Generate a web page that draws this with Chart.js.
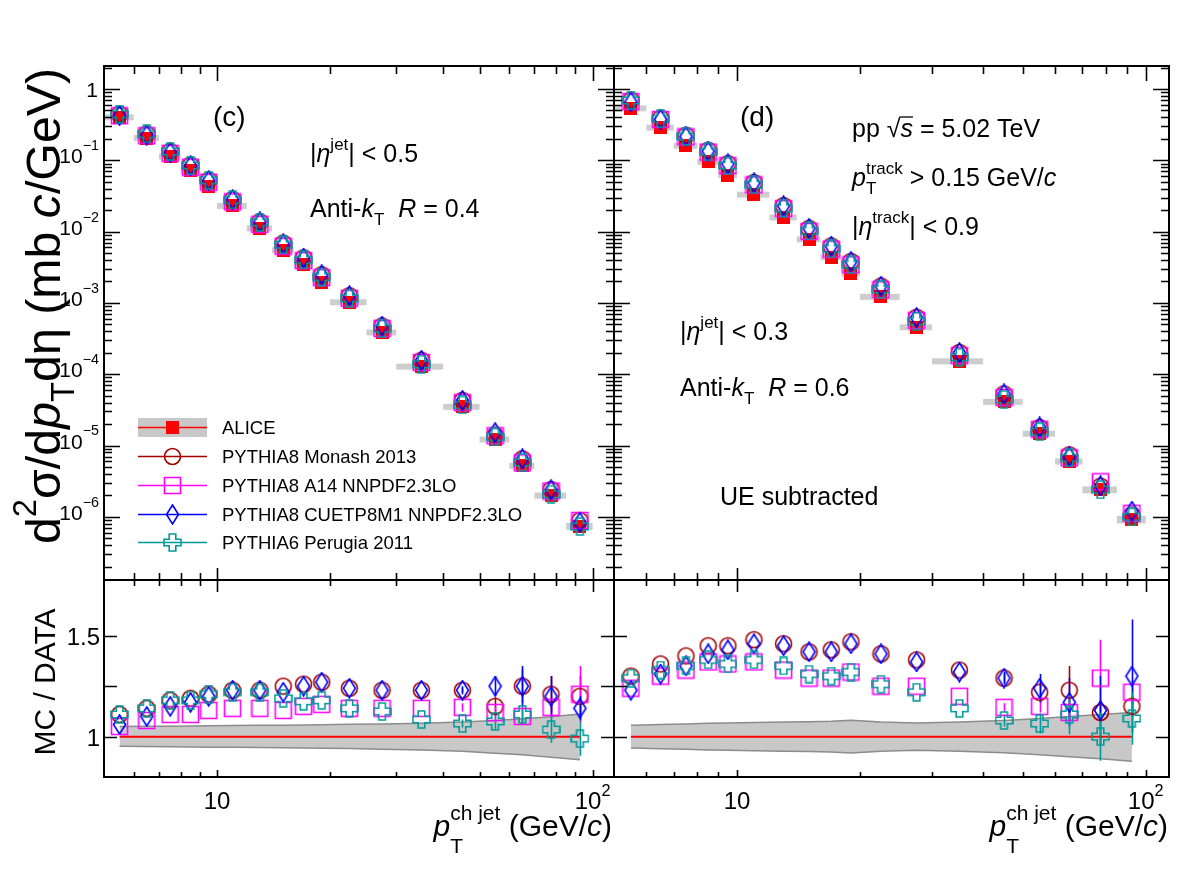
<!DOCTYPE html>
<html>
<head>
<meta charset="utf-8">
<script src="https://cdn.jsdelivr.net/npm/chart.js@4.4.1/dist/chart.umd.min.js"></script>
<style>
  html, body { margin: 0; padding: 0; background: #fff; }
  #wrap { position: relative; width: 1182px; height: 888px; }
  #wrap canvas { position: absolute; left: 0; top: 0; }
</style>
</head>
<body>
<div id="wrap">
  <canvas id="c-tl" width="1182" height="888"></canvas>
  <canvas id="c-tr" width="1182" height="888"></canvas>
  <canvas id="c-bl" width="1182" height="888"></canvas>
  <canvas id="c-br" width="1182" height="888"></canvas>
</div>
<script>
const FONT = '"Liberation Sans", Arial, Helvetica, sans-serif';
const W = 1182, H = 888;

// jet pT bins (GeV/c)
const binEdges   = [5, 6, 7, 8, 9, 10, 12, 14, 16, 18, 20, 25, 30, 40, 50, 60, 70, 85, 100];
const binCenters = [5.5, 6.5, 7.5, 8.5, 9.5, 11, 13, 15, 17, 19, 22.5, 27.5, 35, 45, 55, 65, 77.5, 92.5];

// ---- (c) |eta| < 0.5, R = 0.4 : cross sections (mb c/GeV)
const aliceC   = [0.40, 0.205, 0.113, 0.072, 0.0435, 0.0229, 0.0111, 0.0055, 0.0034, 0.00195, 0.00102, 3.85e-4, 1.28e-4, 3.5e-5, 1.22e-5, 5.2e-6, 2.0e-6, 7.4e-7];
const monashC  = [0.444, 0.234, 0.133, 0.0857, 0.0526, 0.0282, 0.0137, 0.00688, 0.00428, 0.00248, 0.00126, 4.74e-4, 1.57e-4, 4.3e-5, 1.40e-5, 6.5e-6, 2.42e-6, 8.9e-7];
const a14C     = [0.42, 0.221, 0.125, 0.080, 0.0492, 0.0261, 0.01265, 0.00622, 0.00391, 0.00226, 0.00116, 4.39e-4, 1.46e-4, 4.0e-5, 1.37e-5, 5.7e-6, 2.3e-6, 8.9e-7];
const cuetpC   = [0.424, 0.226, 0.130, 0.0842, 0.0522, 0.0282, 0.0137, 0.00671, 0.00425, 0.00248, 0.00126, 4.74e-4, 1.57e-4, 4.3e-5, 1.52e-5, 6.5e-6, 2.4e-6, 8.4e-7];
const perugiaC = [0.444, 0.234, 0.133, 0.085, 0.0526, 0.0279, 0.0135, 0.00655, 0.00401, 0.0023, 0.00116, 4.35e-4, 1.38e-4, 3.7e-5, 1.32e-5, 5.8e-6, 2.08e-6, 7.3e-7];
// ALICE systematic band (relative)
const sysUpC = [1.050, 1.051, 1.052, 1.053, 1.054, 1.055, 1.056, 1.057, 1.058, 1.059, 1.061, 1.063, 1.066, 1.072, 1.080, 1.088, 1.098, 1.112];
const sysLoC = [0.952, 0.951, 0.950, 0.949, 0.948, 0.947, 0.946, 0.945, 0.944, 0.943, 0.941, 0.938, 0.934, 0.927, 0.918, 0.910, 0.898, 0.886];
// MC / DATA
const rMonashC  = [1.11, 1.14, 1.18, 1.19, 1.21, 1.23, 1.23, 1.25, 1.26, 1.27, 1.24, 1.23, 1.23, 1.23, 1.15, 1.25, 1.21, 1.20];
const rA14C     = [1.05, 1.08, 1.11, 1.11, 1.13, 1.14, 1.14, 1.13, 1.15, 1.16, 1.14, 1.14, 1.14, 1.145, 1.12, 1.10, 1.145, 1.21];
const rCuetpC   = [1.06, 1.10, 1.15, 1.17, 1.20, 1.23, 1.23, 1.22, 1.25, 1.27, 1.24, 1.23, 1.23, 1.23, 1.25, 1.25, 1.20, 1.14];
const rPerugiaC = [1.11, 1.14, 1.18, 1.18, 1.21, 1.22, 1.22, 1.19, 1.175, 1.18, 1.14, 1.125, 1.085, 1.065, 1.075, 1.11, 1.035, 0.99];
const eMonashC  = [0, 0, 0, 0, 0, 0, 0, 0, 0, 0, 0, 0, 0, 0.01, 0.045, 0.083, 0.09, 0.10];
const eA14C     = [0, 0, 0, 0, 0, 0, 0, 0, 0, 0, 0, 0, 0, 0.02, 0.03, 0.04, 0.05, 0.14];
const eCuetpC   = [0, 0, 0, 0, 0, 0, 0, 0, 0, 0, 0, 0, 0, 0.02, 0.05, 0.10, 0.10, 0.06];
const ePerugiaC = [0, 0, 0, 0, 0, 0, 0, 0, 0, 0, 0, 0, 0, 0.02, 0.04, 0.04, 0.065, 0.085];

// ---- (d) |eta| < 0.3, R = 0.6
const aliceD   = [0.536, 0.287, 0.160, 0.0953, 0.062, 0.0330, 0.0158, 0.0078, 0.0044, 0.0026, 0.00122, 4.55e-4, 1.52e-4, 4.1e-5, 1.47e-5, 6.0e-6, 2.4e-6, 9.2e-7];
const monashD  = [0.697, 0.390, 0.224, 0.138, 0.090, 0.0488, 0.0231, 0.0111, 0.00629, 0.00382, 0.00172, 6.28e-4, 2.02e-4, 5.29e-5, 1.79e-5, 7.4e-6, 2.69e-6, 1.06e-6];
const a14D     = [0.665, 0.373, 0.213, 0.1306, 0.0843, 0.0452, 0.021, 0.01006, 0.00568, 0.00343, 0.00153, 5.69e-4, 1.82e-4, 4.72e-5, 1.69e-5, 6.7e-6, 3.1e-6, 1.12e-6];
const cuetpD   = [0.659, 0.376, 0.216, 0.1344, 0.0887, 0.0482, 0.0229, 0.0111, 0.00625, 0.0038, 0.00172, 6.23e-4, 2.01e-4, 5.29e-5, 1.82e-5, 7.0e-6, 2.71e-6, 1.2e-6];
const perugiaD = [0.691, 0.382, 0.216, 0.1315, 0.0843, 0.0455, 0.0213, 0.0102, 0.00572, 0.00343, 0.00154, 5.55e-4, 1.73e-4, 4.43e-5, 1.56e-5, 6.7e-6, 2.4e-6, 1.0e-6];
const sysUpD = [1.056, 1.060, 1.063, 1.066, 1.068, 1.070, 1.072, 1.074, 1.076, 1.081, 1.072, 1.068, 1.072, 1.080, 1.090, 1.100, 1.110, 1.120];
const sysLoD = [0.944, 0.940, 0.937, 0.934, 0.932, 0.930, 0.928, 0.926, 0.924, 0.919, 0.928, 0.932, 0.928, 0.920, 0.910, 0.900, 0.890, 0.878];
const rMonashD  = [1.30, 1.36, 1.40, 1.45, 1.45, 1.48, 1.46, 1.42, 1.43, 1.47, 1.41, 1.38, 1.33, 1.29, 1.22, 1.23, 1.12, 1.15];
const rA14D     = [1.24, 1.30, 1.33, 1.37, 1.36, 1.37, 1.33, 1.29, 1.29, 1.32, 1.25, 1.25, 1.20, 1.145, 1.15, 1.12, 1.29, 1.22];
const rCuetpD   = [1.23, 1.31, 1.35, 1.41, 1.43, 1.46, 1.45, 1.42, 1.42, 1.46, 1.41, 1.37, 1.32, 1.29, 1.24, 1.17, 1.13, 1.30];
const rPerugiaD = [1.29, 1.33, 1.35, 1.38, 1.36, 1.38, 1.35, 1.31, 1.30, 1.32, 1.26, 1.22, 1.14, 1.08, 1.065, 1.11, 1.00, 1.09];
const eMonashD  = [0, 0, 0, 0, 0, 0, 0, 0, 0, 0, 0, 0, 0, 0.02, 0.05, 0.12, 0.05, 0.05];
const eA14D     = [0, 0, 0, 0, 0, 0, 0, 0, 0, 0, 0, 0, 0, 0.02, 0.03, 0.04, 0.19, 0.06];
const eCuetpD   = [0, 0, 0, 0, 0, 0, 0, 0, 0, 0, 0, 0, 0, 0.03, 0.07, 0.12, 0.17, 0.28];
const ePerugiaD = [0, 0, 0, 0, 0, 0, 0, 0, 0, 0, 0, 0, 0, 0.03, 0.05, 0.10, 0.12, 0.13];

const dataOverData = [1, 1, 1, 1, 1, 1, 1, 1, 1, 1, 1, 1, 1, 1, 1, 1, 1, 1];

// axes and labels
const X_MIN = 5, X_MAX = 114;
const Y_MIN = 1.3e-7, Y_MAX = 2.1;
const R_MIN = 0.8, R_MAX = 1.776;
const xLabelVals = [10, 100];
const xLabelBase = ['10', '10'];
const xLabelExp  = ['', '2'];
const yLabelVals = [1, 1e-1, 1e-2, 1e-3, 1e-4, 1e-5, 1e-6];
const yLabelBase = ['1', '10', '10', '10', '10', '10', '10'];
const yLabelExp  = ['', '\u22121', '\u22122', '\u22123', '\u22124', '\u22125', '\u22126'];
const rTickVals  = [1, 1.25, 1.5];
const rLabelVals = [1, 1.5];
const rLabelText = ['1', '1.5'];
const legendLabels = ['ALICE', 'PYTHIA8 Monash 2013', 'PYTHIA8 A14 NNPDF2.3LO', 'PYTHIA8 CUETP8M1 NNPDF2.3LO', 'PYTHIA6 Perugia 2011'];

// ---------- markers
function makeMarker(kind, color) {
  const c = document.createElement('canvas');
  let w = 19, h = 19;
  if (kind === 'diamond') { w = 15; h = 21; }
  if (kind === 'alice') { w = 13; h = 13; }
  c.width = w; c.height = h;
  const g = c.getContext('2d');
  g.strokeStyle = color; g.fillStyle = color; g.lineWidth = 1.6;
  const cx = w / 2, cy = h / 2;
  g.beginPath();
  if (kind === 'circle') {
    g.arc(cx, cy, 8, 0, 2 * Math.PI);
  } else if (kind === 'square') {
    g.rect(1.5, 1.5, w - 3, h - 3);
  } else if (kind === 'diamond') {
    g.moveTo(cx, 1); g.lineTo(w - 1.5, cy); g.lineTo(cx, h - 1); g.lineTo(1.5, cy); g.closePath();
  } else if (kind === 'cross') {
    const a = 3.3, b = 8.5;
    g.moveTo(cx - a, cy - b); g.lineTo(cx + a, cy - b); g.lineTo(cx + a, cy - a); g.lineTo(cx + b, cy - a);
    g.lineTo(cx + b, cy + a); g.lineTo(cx + a, cy + a); g.lineTo(cx + a, cy + b); g.lineTo(cx - a, cy + b);
    g.lineTo(cx - a, cy + a); g.lineTo(cx - b, cy + a); g.lineTo(cx - b, cy - a); g.lineTo(cx - a, cy - a);
    g.closePath();
  } else {
    g.fillRect(0, 0, w, h);
    return c;
  }
  g.stroke();
  return c;
}

const models = [
  { color: '#a50000', marker: makeMarker('circle', '#a50000') },
  { color: '#ff00ff', marker: makeMarker('square', '#ff00ff') },
  { color: '#0000ff', marker: makeMarker('diamond', '#0000ff') },
  { color: '#009999', marker: makeMarker('cross', '#009999') },
];
const aliceMarker = makeMarker('alice', '#ff0000');

const pts = vals => vals.map((v, i) => ({ x: binCenters[i], y: v }));

// ---------- rich text (sub/superscripts, italics)
function rich(ctx, x, y, segs, size, align, opt = {}) {
  const k = opt.k || 0.68, supDy = opt.supDy ?? -0.5, subDy = opt.subDy ?? 0.3;
  const fnt = (s, it) => (it ? 'italic ' : '') + s.toFixed(1) + 'px ' + FONT;
  const ss = size * k;
  const parts = segs.map(s => {
    if (typeof s === 'string') s = { t: s };
    let w;
    if (s.t != null) { ctx.font = fnt(size, s.it); w = ctx.measureText(s.t).width; }
    else {
      ctx.font = fnt(ss, false);
      w = Math.max(s.sup ? ctx.measureText(s.sup).width : 0, s.sub ? ctx.measureText(s.sub).width : 0);
    }
    return { s, w };
  });
  const total = parts.reduce((a, p) => a + p.w, 0);
  if (opt.dry) return total;
  let cx = align === 'right' ? x - total : align === 'center' ? x - total / 2 : x;
  ctx.textAlign = 'left'; ctx.textBaseline = 'alphabetic'; ctx.fillStyle = '#000';
  for (const { s, w } of parts) {
    if (s.t != null) {
      ctx.font = fnt(size, s.it);
      ctx.fillText(s.t, cx, y);
      if (s.over) {
        ctx.save(); ctx.strokeStyle = '#000'; ctx.lineWidth = 1.3;
        ctx.beginPath(); ctx.moveTo(cx - 1, y - size * 0.8); ctx.lineTo(cx + w, y - size * 0.8); ctx.stroke();
        ctx.restore();
      }
    } else {
      ctx.font = fnt(ss, false);
      if (s.sup) ctx.fillText(s.sup, cx, y + supDy * size);
      if (s.sub) ctx.fillText(s.sub, cx, y + subDy * size);
    }
    cx += w;
  }
  return total;
}

function logTicks(min, max) {
  const out = [];
  for (let e = Math.floor(Math.log10(min)); e <= Math.ceil(Math.log10(max)); e++) {
    for (let m = 1; m <= 9; m++) {
      const v = m * Math.pow(10, e);
      if (v >= min && v <= max) out.push({ v, major: m === 1 });
    }
  }
  return out;
}
const xTicks = logTicks(X_MIN, X_MAX);
const yTicks = logTicks(Y_MIN, Y_MAX);
const rTicks = rTickVals.map(v => ({ v, major: true }));

// ---------- decorations plugin
function makeDeco(cfg) {
  return {
    id: 'deco',
    beforeDatasetsDraw(chart) {
      if (!cfg.sys) return;
      const { ctx } = chart, xs = chart.scales.x, ys = chart.scales.y;
      ctx.save();
      ctx.fillStyle = '#cdcdcd';
      cfg.sys.vals.forEach((v, i) => {
        const x0 = xs.getPixelForValue(binEdges[i]), x1 = xs.getPixelForValue(binEdges[i + 1]);
        let y0 = ys.getPixelForValue(v * cfg.sys.up[i]), y1 = ys.getPixelForValue(v * cfg.sys.lo[i]);
        const mid = (y0 + y1) / 2;
        if (y1 - y0 < 6) { y0 = mid - 3; y1 = mid + 3; }
        ctx.fillRect(x0, y0, x1 - x0, y1 - y0);
      });
      ctx.restore();
    },
    afterDatasetDraw(chart, args) {
      if (!cfg.errs || args.index !== 2) return;
      const { ctx } = chart, xs = chart.scales.x, ys = chart.scales.y;
      ctx.save();
      ctx.lineWidth = 1.6;
      cfg.errs.forEach(m => {
        ctx.strokeStyle = m.color;
        ctx.beginPath();
        m.r.forEach((r, i) => {
          if (!m.e[i]) return;
          const px = Math.round(xs.getPixelForValue(binCenters[i])) + 0.5;
          ctx.moveTo(px, ys.getPixelForValue(r + m.e[i]));
          ctx.lineTo(px, ys.getPixelForValue(r - m.e[i]));
        });
        ctx.stroke();
      });
      ctx.restore();
    },
    afterDraw(chart) {
      const { ctx, chartArea: a } = chart, xs = chart.scales.x, ys = chart.scales.y;
      ctx.save();
      ctx.strokeStyle = '#000'; ctx.lineWidth = 1.6;
      ctx.beginPath();
      for (const t of xTicks) {
        const px = Math.round(xs.getPixelForValue(t.v)) + 0.5;
        if (px < a.left + 2 || px > a.right - 2) continue;
        const lt = t.major ? cfg.tk.xTop[0] : cfg.tk.xTop[1];
        const lb = t.major ? cfg.tk.xBot[0] : cfg.tk.xBot[1];
        ctx.moveTo(px, a.top); ctx.lineTo(px, a.top + lt);
        ctx.moveTo(px, a.bottom); ctx.lineTo(px, a.bottom - lb);
      }
      for (const t of cfg.yT) {
        const py = Math.round(ys.getPixelForValue(t.v)) + 0.5;
        if (py < a.top + 2 || py > a.bottom - 2) continue;
        const l = t.major ? cfg.tk.y[0] : cfg.tk.y[1];
        ctx.moveTo(a.left, py); ctx.lineTo(a.left + l, py);
        ctx.moveTo(a.right, py); ctx.lineTo(a.right - l, py);
      }
      ctx.stroke();
      ctx.lineWidth = 2;
      ctx.strokeRect(a.left, a.top, a.right - a.left, a.bottom - a.top);
      ctx.restore();

      ctx.save();
      if (cfg.yLabels === 'log') {
        yLabelVals.forEach((v, i) => {
          const py = ys.getPixelForValue(v);
          if (yLabelExp[i]) rich(ctx, 99, py + 3, [yLabelBase[i], { sup: yLabelExp[i] }], 21, 'right', { supDy: -0.62 });
          else rich(ctx, 98, py + 8, [yLabelBase[i]], 21, 'right');
        });
      } else if (cfg.yLabels === 'ratio') {
        rLabelVals.forEach((v, i) => rich(ctx, 100, ys.getPixelForValue(v) + 9, [rLabelText[i]], 24, 'right'));
      }
      if (cfg.xLabels) {
        xLabelVals.forEach((v, i) => {
          const px = xs.getPixelForValue(v);
          const segs = xLabelExp[i] ? [xLabelBase[i], { sup: xLabelExp[i] }] : [xLabelBase[i]];
          rich(ctx, px, 809, segs, 24, 'center', { supDy: -0.55 });
        });
      }
      if (cfg.text) cfg.text(ctx, a);
      ctx.restore();
    }
  };
}

// ---------- chart factory
function panel(id, area, yOpts, datasets, cfg) {
  return new Chart(document.getElementById(id), {
    type: 'scatter',
    data: { datasets },
    options: {
      responsive: false, animation: false, events: [],
      layout: { padding: { left: area.l, top: area.t, right: W - area.r, bottom: H - area.b } },
      plugins: { legend: { display: false }, tooltip: { enabled: false } },
      scales: {
        x: { type: 'logarithmic', min: X_MIN, max: X_MAX, bounds: 'data',
             ticks: { display: false }, grid: { display: false }, border: { display: false },
             afterFit: s => { s.height = 0; } },
        y: Object.assign({ bounds: 'data', ticks: { display: false }, grid: { display: false },
             border: { display: false }, afterFit: s => { s.width = 0; } }, yOpts)
      }
    },
    plugins: [makeDeco(cfg)]
  });
}

function topSets(alice, mc) {
  const sets = [{ data: pts(alice), pointStyle: aliceMarker, pointRadius: 7, order: 4 }];
  mc.forEach((vals, i) => sets.push({ data: pts(vals), pointStyle: models[i].marker, pointRadius: 8, order: 3 - i }));
  return sets;
}
function ratioSets(up, lo, ratios) {
  const sets = [
    { type: 'line', data: pts(up), pointRadius: 0, borderColor: '#8c8c8c', borderWidth: 1.5, backgroundColor: '#c8c8c8', fill: '+1', order: 9 },
    { type: 'line', data: pts(lo), pointRadius: 0, borderColor: '#8c8c8c', borderWidth: 1.5, backgroundColor: '#c8c8c8', fill: false, order: 8 },
    { type: 'line', data: pts(dataOverData), pointRadius: 0, borderColor: '#ff0000', borderWidth: 2, fill: false, order: 7 },
  ];
  ratios.forEach((vals, i) => sets.push({ data: pts(vals), pointStyle: models[i].marker, pointRadius: 8, order: 3 - i }));
  return sets;
}

const logY = { type: 'logarithmic', min: Y_MIN, max: Y_MAX };
const linR = { type: 'linear', min: R_MIN, max: R_MAX };
const tkTop = { xTop: [15, 8], xBot: [12, 7], y: [16, 8] };
const tkRat = { xTop: [12, 6], xBot: [7, 5], y: [13, 13] };

const etaJet = cut => ['|', { t: '\u03b7', it: true }, { sup: 'jet' }, '| < ' + cut];
const antiKt = r => ['Anti-', { t: 'k', it: true }, { sub: 'T' }, '  ', { t: 'R', it: true }, ' = ' + r];

function drawLegend(ctx) {
  const rows = [427, 456, 485, 514, 542];
  const colors = ['#ff0000'].concat(models.map(m => m.color));
  rows.forEach((yc, i) => {
    if (i === 0) { ctx.fillStyle = '#c8c8c8'; ctx.fillRect(138, 418, 69, 19); }
    ctx.strokeStyle = colors[i]; ctx.lineWidth = 1.5;
    ctx.beginPath(); ctx.moveTo(138, yc + 0.5); ctx.lineTo(207, yc + 0.5); ctx.stroke();
    const m = i === 0 ? aliceMarker : models[i - 1].marker;
    ctx.drawImage(m, Math.round(172.5 - m.width / 2), Math.round(yc - m.height / 2));
    rich(ctx, 222, yc + 7, [legendLabels[i]], 18.5, 'left');
  });
}

// top-left (c)
panel('c-tl', { l: 104, t: 66, r: 614, b: 580 }, logY,
  topSets(aliceC, [monashC, a14C, cuetpC, perugiaC]),
  { tk: tkTop, yT: yTicks, yLabels: 'log', sys: { vals: aliceC, up: sysUpC, lo: sysLoC },
    text(ctx) {
      rich(ctx, 213, 126, ['(c)'], 28, 'left');
      rich(ctx, 310, 162, etaJet('0.5'), 25, 'left');
      rich(ctx, 310, 217, antiKt('0.4'), 25, 'left');
      drawLegend(ctx);
      const ytitle = ['d', { sup: '2' }, '\u03c3/d', { t: 'p', it: true }, { sub: 'T' }, 'd\u03b7 (mb ', { t: 'c', it: true }, '/GeV)'];
      const target = 476;
      const w0 = rich(ctx, 0, 0, ytitle, 40, 'center', { dry: true });
      ctx.save(); ctx.translate(60, 306); ctx.rotate(-Math.PI / 2);
      rich(ctx, 0, 0, ytitle, 40 * target / w0, 'center', { subDy: 0.3 });
      ctx.restore();
    } });

// top-right (d)
panel('c-tr', { l: 614, t: 66, r: 1169, b: 580 }, logY,
  topSets(aliceD, [monashD, a14D, cuetpD, perugiaD]),
  { tk: tkTop, yT: yTicks, sys: { vals: aliceD, up: sysUpD, lo: sysLoD },
    text(ctx) {
      rich(ctx, 740, 126, ['(d)'], 28, 'left');
      rich(ctx, 852, 137, ['pp ', '\u221a', { t: 's', it: true, over: true }, ' = 5.02 TeV'], 25, 'left');
      rich(ctx, 852, 186, [{ t: 'p', it: true }, { sub: 'T', sup: 'track' }, ' > 0.15 GeV/', { t: 'c', it: true }], 25, 'left');
      rich(ctx, 852, 235, ['|', { t: '\u03b7', it: true }, { sup: 'track' }, '| < 0.9'], 25, 'left');
      rich(ctx, 680, 340, etaJet('0.3'), 25, 'left');
      rich(ctx, 680, 396, antiKt('0.6'), 25, 'left');
      rich(ctx, 720, 505, ['UE subtracted'], 25, 'left');
    } });

const xTitle = [{ t: 'p', it: true }, { sub: 'T', sup: 'ch jet' }, ' (GeV/', { t: 'c', it: true }, ')'];

// bottom-left ratio
panel('c-bl', { l: 104, t: 580, r: 614, b: 777 }, linR,
  ratioSets(sysUpC, sysLoC, [rMonashC, rA14C, rCuetpC, rPerugiaC]),
  { tk: tkRat, yT: rTicks, yLabels: 'ratio', xLabels: true,
    errs: [
      { color: models[0].color, r: rMonashC, e: eMonashC },
      { color: models[1].color, r: rA14C, e: eA14C },
      { color: models[2].color, r: rCuetpC, e: eCuetpC },
      { color: models[3].color, r: rPerugiaC, e: ePerugiaC },
    ],
    text(ctx) {
      rich(ctx, 612, 836, xTitle, 30, 'right', { subDy: 0.55, supDy: -0.55, k: 0.7 });
      ctx.save(); ctx.translate(55, 682); ctx.rotate(-Math.PI / 2);
      rich(ctx, 0, 0, ['MC / DATA'], 30, 'center');
      ctx.restore();
    } });

// bottom-right ratio
panel('c-br', { l: 614, t: 580, r: 1169, b: 777 }, linR,
  ratioSets(sysUpD, sysLoD, [rMonashD, rA14D, rCuetpD, rPerugiaD]),
  { tk: tkRat, yT: rTicks, xLabels: true,
    errs: [
      { color: models[0].color, r: rMonashD, e: eMonashD },
      { color: models[1].color, r: rA14D, e: eA14D },
      { color: models[2].color, r: rCuetpD, e: eCuetpD },
      { color: models[3].color, r: rPerugiaD, e: ePerugiaD },
    ],
    text(ctx) {
      rich(ctx, 1168, 836, xTitle, 30, 'right', { subDy: 0.55, supDy: -0.55, k: 0.7 });
    } });
</script>
</body>
</html>
